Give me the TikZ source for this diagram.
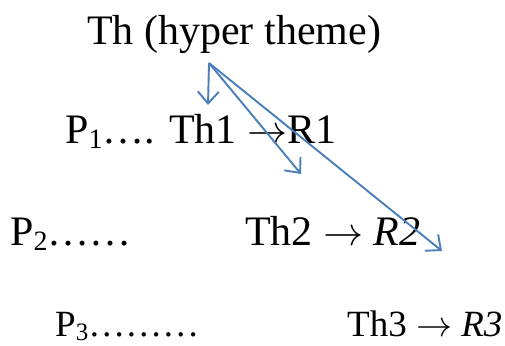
\documentclass[tikz,border=0pt]{standalone}
\usepackage{fontspec}
\setmainfont{Liberation Serif}
\usetikzlibrary{arrows.meta}
\definecolor{arrowblue}{RGB}{74,126,187}
\newcommand\lowsub[2]{\raisebox{-0.13em}{\fontsize{#1}{#1}\selectfont #2}}
\newcommand\bigarrow[1]{\scalebox{#1}{\fontsize{10}{12}\selectfont$\rightarrow$}}
\begin{document}
\begin{tikzpicture}[x=1pt,y=-1pt,
  txt/.style={inner sep=0pt,anchor=base west,font=\fontsize{42}{48}\selectfont},
  smalltxt/.style={inner sep=0pt,anchor=base west,font=\fontsize{37}{42}\selectfont},
  link/.style={draw=arrowblue,line width=1.9pt,-{Straight Barb[length=12pt,width=21pt,line width=1.9pt]}}]
\useasboundingbox (0,0) rectangle (505,345);
\node[txt] (top) at (87,45) {Th (hyper theme)};
\node[txt] (row1) at (65,143) {P\lowsub{28}{1}…. Th1 \bigarrow{4}R1};
\node[txt] (p2) at (10,245) {P\lowsub{28}{2}……};
\node[txt] (r2) at (245,245) {Th2 \bigarrow{4} \textit{R2}};
\node[smalltxt] (p3) at (55,336) {P\lowsub{25}{3}………};
\node[smalltxt] (r3) at (347,336) {Th3 \bigarrow{3.6} \textit{R3}};
\coordinate (src) at (209,63);
\coordinate (e1) at (208,105);
\coordinate (e2) at (301,174);
\coordinate (e3) at (442,251);
\draw[link] (src) -- (e1);
\draw[link] (src) -- (e2);
\draw[link] (src) -- (e3);
\end{tikzpicture}
\end{document}
